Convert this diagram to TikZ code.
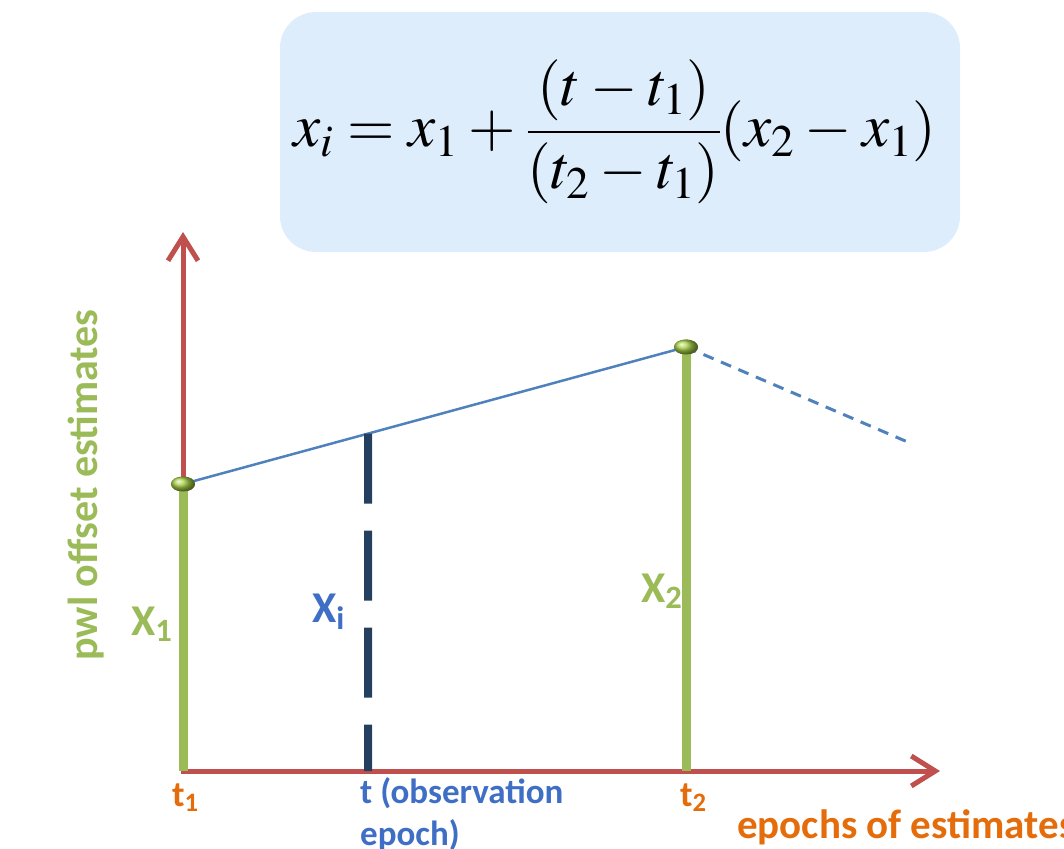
\documentclass[tikz,border=0pt]{standalone}
\usepackage{mathptmx}
\usepackage{fontspec}
\setmainfont{Carlito}
\usetikzlibrary{arrows.meta, shapes.geometric, calc}

\definecolor{axisred}{HTML}{C0504D}
\definecolor{estgreen}{HTML}{9BBB59}
\definecolor{lineblue}{HTML}{4F81BD}
\definecolor{obsnavy}{HTML}{243F60}
\definecolor{labblue}{HTML}{3F6FC4}
\definecolor{epochorange}{HTML}{E46C0A}
\definecolor{boxblue}{HTML}{DDEDFC}
\definecolor{dotgreen}{HTML}{A8D048}

\tikzset{
  axis/.style={draw=axisred, line width=5, line join=miter},
  estbar/.style={draw=estgreen, line width=9},
  estdot/.style={ellipse, minimum width=24, minimum height=15, inner sep=0, ball color=dotgreen},
  obsline/.style={draw=obsnavy, line width=8, dash pattern=on 70 off 27},
  lab/.style={font={\fontsize{44}{52}\selectfont\bfseries}, inner sep=0}
}

\begin{document}
\begin{tikzpicture}[x=1pt, y=-1pt, >={Straight Barb[length=24, width=30]}]

		\useasboundingbox (0,0) rectangle (1064,848);

		% Formula box
		\fill[boxblue, rounded corners=36] (280,12) rectangle (960,252);
		\node[inner sep=0] (formula) at (615,132)
			{\fontsize{61}{70}\selectfont\medmuskip=3mu$\displaystyle x_i = x_1 + \frac{(t-t_1)}{(t_2-t_1)}(x_2-x_1)$};

		% Axes
		\coordinate (O) at (183,771);
		\coordinate (yend) at (183,232);
		\coordinate (xend) at (940,771);
		\draw[axis, <->] (yend) |- (xend);

		% Estimates at t1 and t2
		\coordinate (T1) at (183,771);
		\coordinate (T2) at (686,771);
		\node[estdot] (P1) at (183,484) {};
		\node[estdot] (P2) at (686,347) {};
		\draw[estbar] (P1.center) -- (T1);
		\draw[estbar] (P2.center) -- (T2);

		% Interpolation line and its extension
		\coordinate (ext) at (910,443);
		\draw[lineblue, line width=2.5] (P1.center) -- (P2.center);
		\draw[lineblue, line width=3, dash pattern=on 11 off 8] (P2.center) -- (ext);

		% Observation epoch
		\coordinate (Xi) at ($(P1.center)!{185/503}!(P2.center)$);
		\coordinate (Ti) at (368,771);
		\draw[obsline] (Xi) -- (Ti);

		% dots on top
		\node[estdot] at (P1) {};
		\node[estdot] at (P2) {};

		% Labels
		\node[lab, text=estgreen, rotate=90, anchor=base, font={\fontsize{42}{50}\selectfont\bfseries}] (ylab) at (97,485) {pwl offset estimates};
		\node[lab, text=estgreen, anchor=base west] (X1lab) at (131,635) {X\textsubscript{1}};
		\node[lab, text=estgreen, anchor=base west] (X2lab) at (641,602) {X\textsubscript{2}};
		\node[lab, text=labblue, anchor=base west] (Xilab) at (312,622) {X\textsubscript{i}};
		\node[lab, text=epochorange, anchor=base west, font={\fontsize{36}{42}\selectfont\bfseries}] (t1lab) at (172,806) {t\textsubscript{1}};
		\node[lab, text=epochorange, anchor=base west, font={\fontsize{36}{42}\selectfont\bfseries}] (t2lab) at (680,806) {t\textsubscript{2}};
		\node[lab, text=labblue, anchor=base west, align=left, font={\fontsize{35}{42}\selectfont\bfseries}] (tlab) at (360,845) {t (observation\\epoch)};
		\node[lab, text=epochorange, anchor=base west, font={\fontsize{41}{48}\selectfont\bfseries}] (xlab) at (737,838) {epochs of estimates};

	\end{tikzpicture}
\end{document}
